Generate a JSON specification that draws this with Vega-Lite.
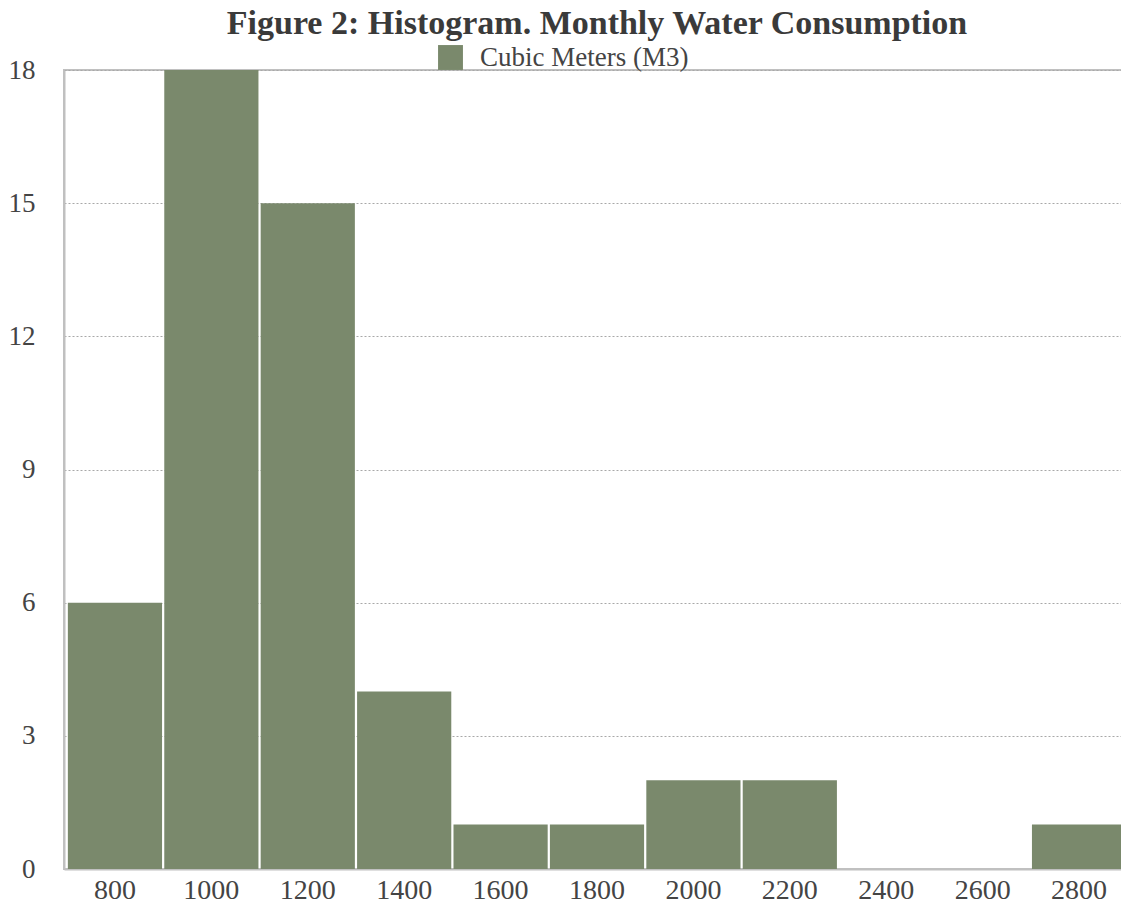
{
  "$schema": "https://vega.github.io/schema/vega-lite/v6.json",
  "autosize": {"type": "none"},
  "padding": {"left": 64, "top": 70, "right": 0, "bottom": 42},
  "width": 1066,
  "height": 799,
  "background": "white",
  "title": {
    "text": "Figure 2: Histogram. Monthly Water Consumption",
    "font": "Liberation Serif",
    "fontSize": 34,
    "fontWeight": "bold",
    "color": "#3a3a3a",
    "anchor": "middle",
    "frame": "group",
    "baseline": "alphabetic",
    "offset": 34,
    "dy": 58
  },
  "data": {
    "values": [
      {"bin": 800, "count": 6, "series": "Cubic Meters (M3)"},
      {"bin": 1000, "count": 18, "series": "Cubic Meters (M3)"},
      {"bin": 1200, "count": 15, "series": "Cubic Meters (M3)"},
      {"bin": 1400, "count": 4, "series": "Cubic Meters (M3)"},
      {"bin": 1600, "count": 1, "series": "Cubic Meters (M3)"},
      {"bin": 1800, "count": 1, "series": "Cubic Meters (M3)"},
      {"bin": 2000, "count": 2, "series": "Cubic Meters (M3)"},
      {"bin": 2200, "count": 2, "series": "Cubic Meters (M3)"},
      {"bin": 2400, "count": 0, "series": "Cubic Meters (M3)"},
      {"bin": 2600, "count": 0, "series": "Cubic Meters (M3)"},
      {"bin": 2800, "count": 1, "series": "Cubic Meters (M3)"}
    ]
  },
  "mark": {"type": "bar"},
  "encoding": {
    "x": {
      "field": "bin",
      "type": "ordinal",
      "scale": {"paddingInner": 0.023, "paddingOuter": 0.04},
      "axis": {
        "title": null,
        "labelAngle": 0,
        "labelFont": "Liberation Serif",
        "labelFontSize": 28,
        "labelColor": "#444444",
        "labelPadding": 7,
        "ticks": false,
        "domainColor": "#c0c0c0",
        "domainWidth": 2
      }
    },
    "y": {
      "field": "count",
      "type": "quantitative",
      "scale": {"domain": [0, 18], "nice": false},
      "axis": {
        "title": null,
        "values": [0, 3, 6, 9, 12, 15, 18],
        "labelFont": "Liberation Serif",
        "labelFontSize": 27,
        "labelColor": "#444444",
        "labelPadding": 29,
        "ticks": false,
        "domainColor": "#c0c0c0",
        "domainWidth": 2,
        "grid": true,
        "gridColor": "#a8a8a8",
        "gridDash": [2, 2],
        "gridWidth": 1
      }
    },
    "color": {
      "field": "series",
      "type": "nominal",
      "scale": {"range": ["#7a896c"]},
      "legend": {
        "title": null,
        "orient": "none",
        "legendX": 373,
        "legendY": -26,
        "symbolType": "square",
        "symbolSize": 620,
        "symbolStrokeWidth": 0,
        "labelFont": "Liberation Serif",
        "labelFontSize": 27,
        "labelColor": "#444444",
        "labelOffset": 16,
        "labelLimit": 0
      }
    }
  },
  "config": {
    "view": {"stroke": "#c0c0c0", "strokeWidth": 2}
  }
}
